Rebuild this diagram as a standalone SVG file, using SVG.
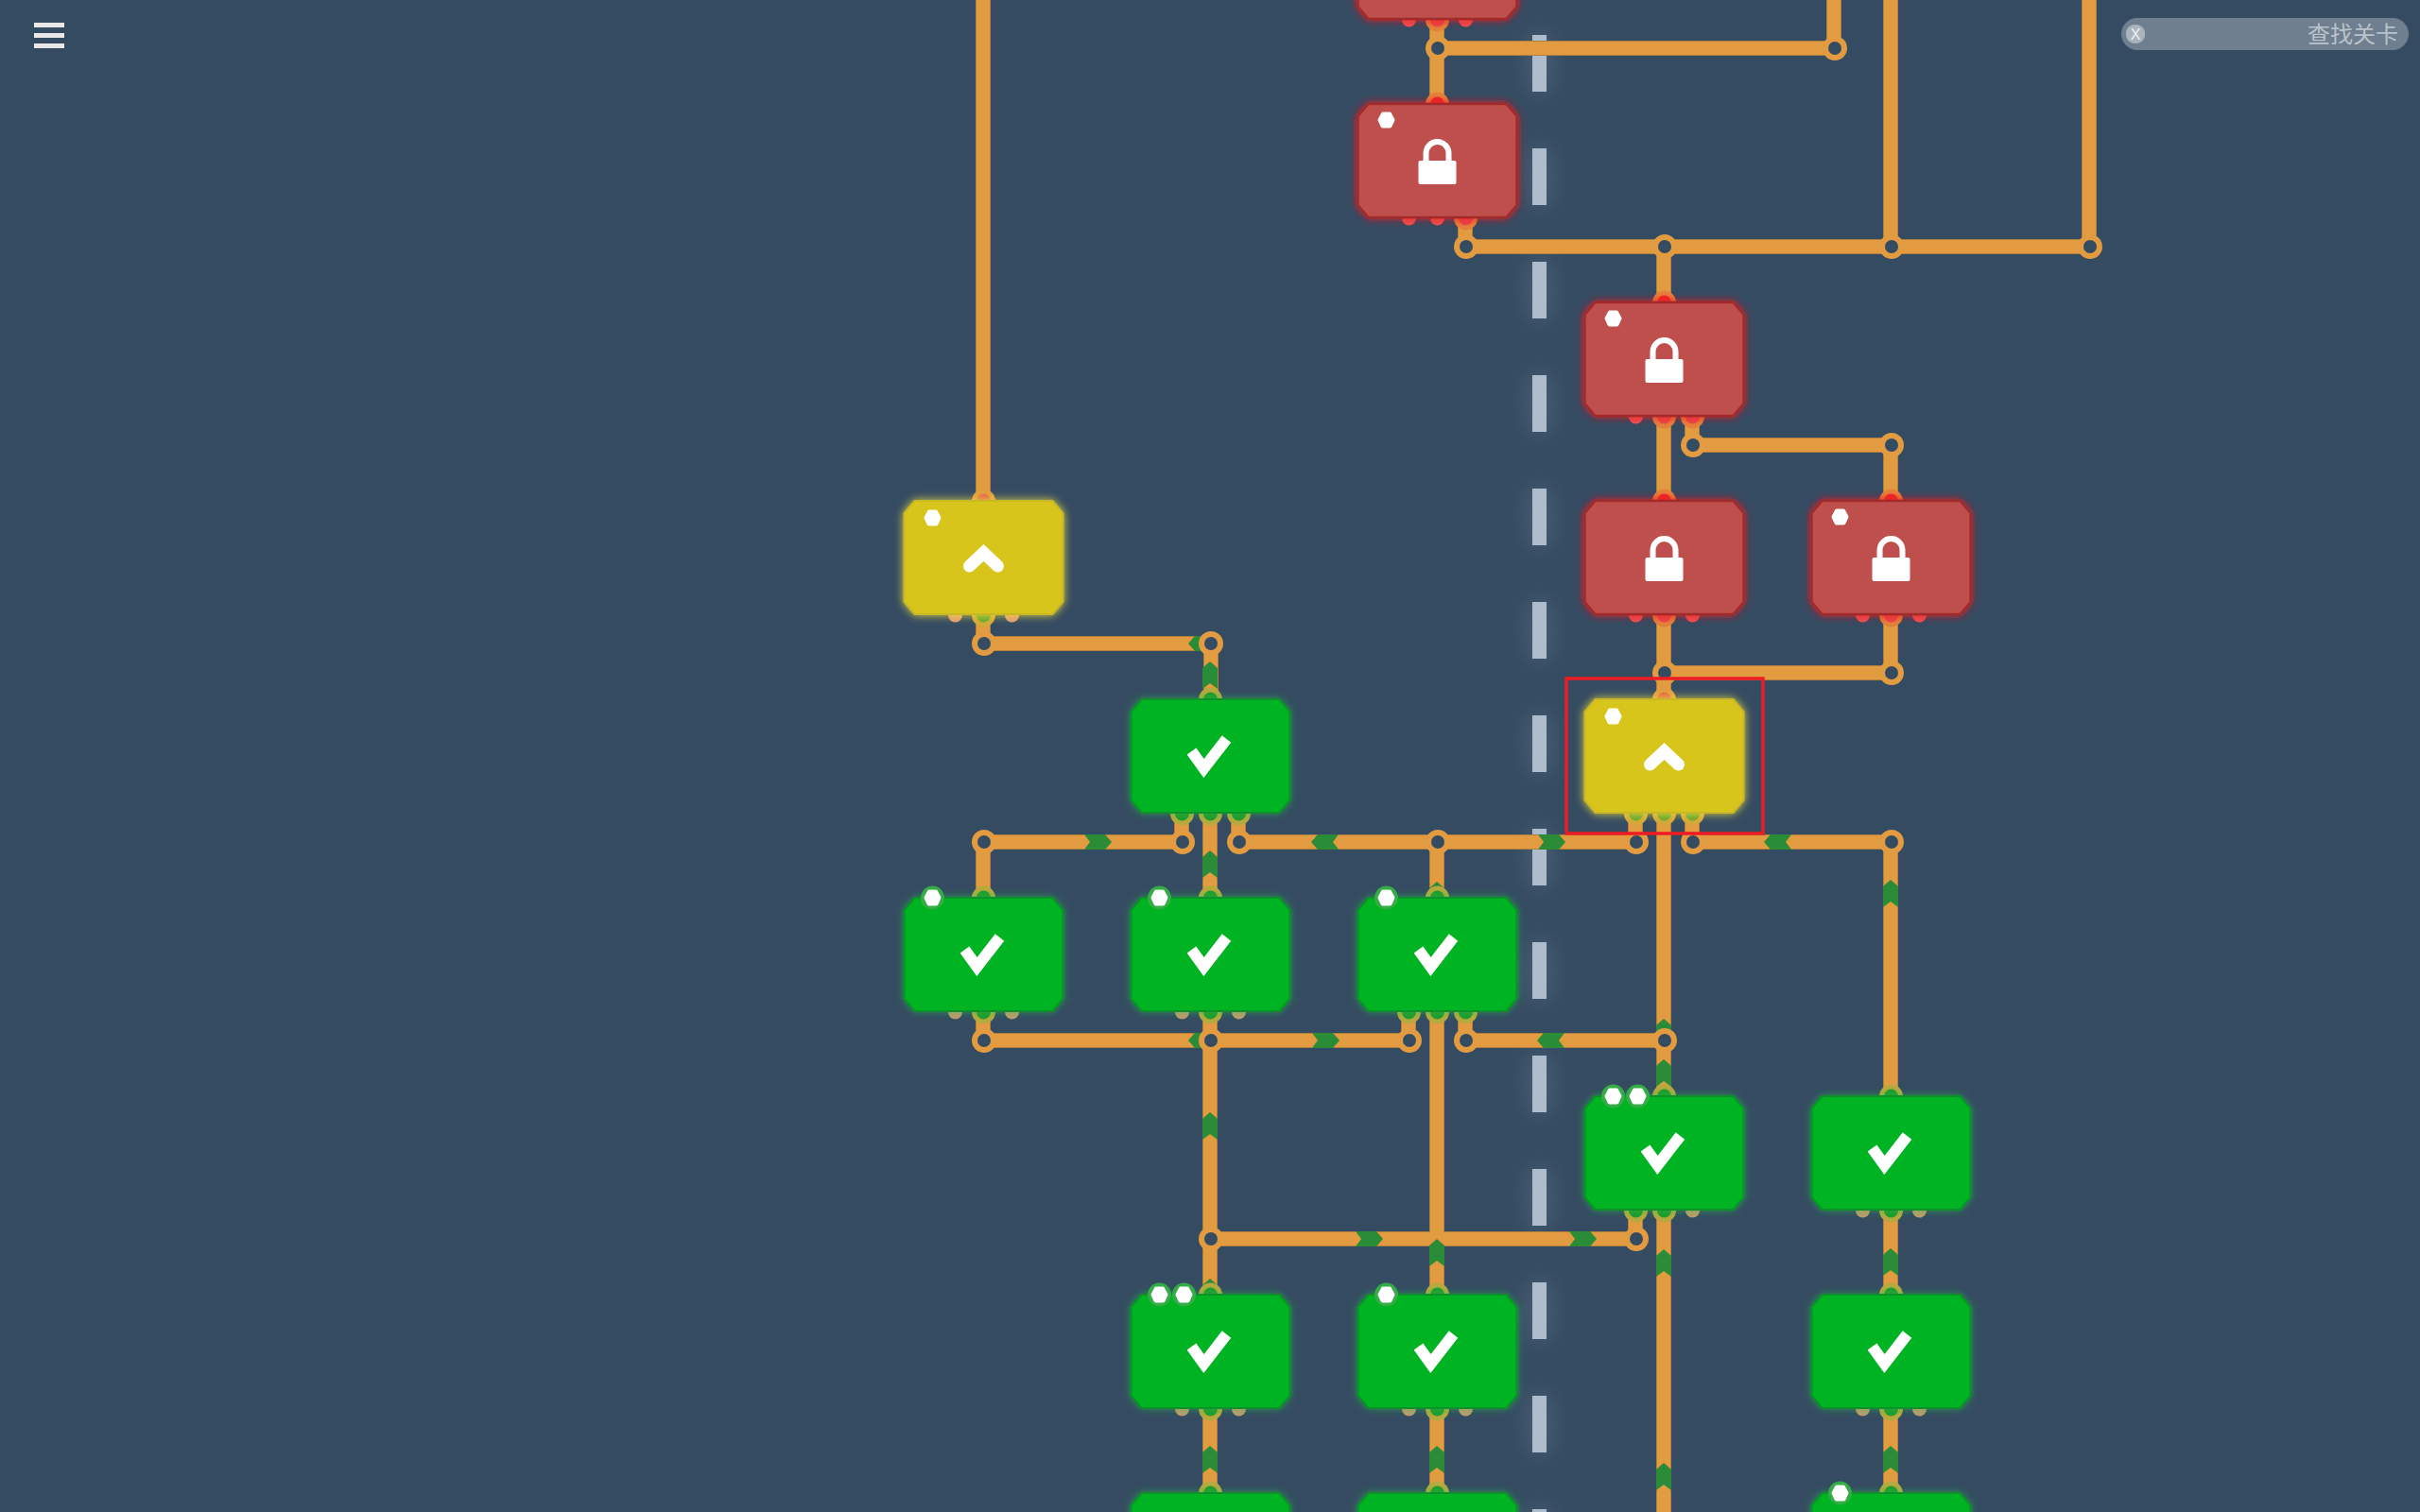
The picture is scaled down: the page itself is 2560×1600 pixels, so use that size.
<svg xmlns="http://www.w3.org/2000/svg" width="2560" height="1600" viewBox="0 0 2560 1600">
<defs>
<style>
.wc{fill:none;stroke:#e29b40;stroke-width:14}
.we{fill:none;stroke:#b0803c;stroke-width:16}
.ring{fill:#354b62;stroke:#e29b40;stroke-width:6}
.chev{fill:#2a8c36}
.dash{fill:#aebccb;filter:url(#dashglow)}
.g{fill:#00b321;stroke:#07912a;stroke-width:2;filter:url(#gg)}
.y{fill:#d7c51d;stroke:#c9b826;stroke-width:2;filter:url(#gy)}
.r{fill:#bf4f4d;stroke:#a32c2c;stroke-width:2.500;filter:url(#gr)}
.ck{fill:none;stroke:#fff;stroke-width:12;stroke-linejoin:miter}
.up{fill:none;stroke:#fff;stroke-width:13;stroke-linecap:round;stroke-linejoin:miter}
.sh{fill:none;stroke:#fff;stroke-width:6}
.hl{fill:none;stroke:#ed1c24;stroke-width:3.5}
.bar{fill:#e8e8e8}
</style>
<filter id="gg" x="-20%" y="-25%" width="140%" height="150%"><feDropShadow dx="0" dy="0" stdDeviation="4" flood-color="#1fc23f" flood-opacity=".6"/></filter>
<filter id="gy" x="-20%" y="-25%" width="140%" height="150%"><feDropShadow dx="0" dy="0" stdDeviation="5" flood-color="#f2e23a" flood-opacity=".9"/></filter>
<filter id="gr" x="-20%" y="-25%" width="140%" height="150%"><feDropShadow dx="0" dy="0" stdDeviation="4" flood-color="#e8181c" flood-opacity="1"/></filter>
<filter id="dashglow" x="-300%" y="-60%" width="700%" height="220%"><feDropShadow dx="0" dy="0" stdDeviation="12" flood-color="#8da2b8" flood-opacity=".4"/></filter>
<polygon id="okt" points="-73,-60 73,-60 84,-47 84,47 73,60 -73,60 -84,47 -84,-47"/>
<polygon id="chev" class="chev" points="0,-15 8,-8 8,14 0,8 -8,14 -8,-8"/>
<g id="check"><polyline class="ck" points="-20,-5 -7,13 17,-18"/></g>
<g id="chevup"><polyline class="up" points="-15,9 0,-5 15,9"/></g>
<g id="lock"><rect x="-20" y="0" width="40" height="25" rx="2" fill="#fff"/><path class="sh" d="M-12,1V-8a12,12 0 0 1 24,0V1"/></g>
<g id="gOn"><circle r="10" fill="#22992d" stroke="#b7a93f" stroke-width="5"/></g>
<circle id="gOff" r="7.5" fill="#c49a70"/>
<g id="yOn"><circle r="10" fill="#6aa52e" stroke="#d2a83a" stroke-width="5"/></g>
<g id="yTop"><circle r="10" fill="#e0674a" stroke="#e29b40" stroke-width="5"/></g>
<circle id="yOff" r="7.5" fill="#e59a72"/>
<g id="rOn"><circle r="10" fill="#ea4a4c" stroke="#e5803c" stroke-width="5"/></g>
<g id="rTop"><circle r="10" fill="#ee2a2a" stroke="#e5803c" stroke-width="5"/></g>
<circle id="rOff" r="7.5" fill="#ea5455"/>
<polygon id="badge" points="-3.500,-6.500 3.500,-6.500 7,0 4,6.500 -4,6.500 -7,0" fill="#fff" stroke="#fff" stroke-width="4" stroke-linejoin="round"/>
<g id="gbadge"><circle r="12.5" fill="#35ad46"/><use href="#badge"/></g>
<path id="wires" d="M1040-10V530M1040 652V681H1281M1281 681V742M1250 862V891H1040V950M1280 860V950M1310 862V891H1730V862M1520 891V950M1760 862V1160M1790 862V891H2000V1160M1040 1070V1101H1490V1070M1280 1070V1370M1520 1070V1370M1550 1070V1101H1760M1280 1311H1730V1280M1760 1280V1610M2000 1280V1370M1280 1490V1580M1520 1490V1580M2000 1490V1580M1940-10V51H1520M1520 20V110M1550 233V261H2210V-10M2000-10V261M1760 261V320M1760 440V530M1790 440V471H2000V530M2000 650V712H1760M1760 650V740"/>
</defs>
<rect width="2560" height="1600" fill="#354b62"/>
<g id="divider">
<rect class="dash" x="1621" y="37" width="15" height="60"/><rect class="dash" x="1621" y="157" width="15" height="60"/><rect class="dash" x="1621" y="277" width="15" height="60"/><rect class="dash" x="1621" y="397" width="15" height="60"/><rect class="dash" x="1621" y="517" width="15" height="60"/><rect class="dash" x="1621" y="637" width="15" height="60"/><rect class="dash" x="1621" y="757" width="15" height="60"/><rect class="dash" x="1621" y="877" width="15" height="60"/><rect class="dash" x="1621" y="997" width="15" height="60"/><rect class="dash" x="1621" y="1117" width="15" height="60"/><rect class="dash" x="1621" y="1237" width="15" height="60"/><rect class="dash" x="1621" y="1357" width="15" height="60"/><rect class="dash" x="1621" y="1477" width="15" height="60"/><rect class="dash" x="1621" y="1597" width="15" height="60"/>
</g>
<g id="connectors">
<use href="#wires" class="we"/><use href="#wires" class="wc"/>
<g id="flow">
<use href="#chev" transform="translate(1272 681) rotate(-90)"/>
<use href="#chev" transform="translate(1280 715)"/>
<use href="#chev" transform="translate(1161 891) rotate(90)"/>
<use href="#chev" transform="translate(1402 891) rotate(-90)"/>
<use href="#chev" transform="translate(1280 915)"/>
<use href="#chev" transform="translate(1520 948)"/>
<use href="#chev" transform="translate(1641 891) rotate(90)"/>
<use href="#chev" transform="translate(1881 891) rotate(-90)"/>
<use href="#chev" transform="translate(2000 946)"/>
<use href="#chev" transform="translate(1272 1101) rotate(-90)"/>
<use href="#chev" transform="translate(1402 1101) rotate(90)"/>
<use href="#chev" transform="translate(1641 1101) rotate(-90)"/>
<use href="#chev" transform="translate(1760 1093)"/>
<use href="#chev" transform="translate(1760 1136)"/>
<use href="#chev" transform="translate(1280 1192)"/>
<use href="#chev" transform="translate(1520 1326)"/>
<use href="#chev" transform="translate(1448 1311) rotate(90)"/>
<use href="#chev" transform="translate(1674 1311) rotate(90)"/>
<use href="#chev" transform="translate(1760 1337)"/>
<use href="#chev" transform="translate(1760 1563)"/>
<use href="#chev" transform="translate(2000 1336)"/>
<use href="#chev" transform="translate(2000 1545)"/>
<use href="#chev" transform="translate(1280 1368)"/>
<use href="#chev" transform="translate(1280 1545)"/>
<use href="#chev" transform="translate(1520 1545)"/>
</g>
<g id="junctions">
<circle class="ring" cx="1521" cy="51" r="10"/><circle class="ring" cx="1941" cy="51" r="10"/><circle class="ring" cx="1551" cy="261" r="10"/><circle class="ring" cx="1761" cy="261" r="10"/><circle class="ring" cx="2001" cy="261" r="10"/><circle class="ring" cx="2211" cy="261" r="10"/><circle class="ring" cx="1791" cy="471" r="10"/><circle class="ring" cx="2001" cy="471" r="10"/><circle class="ring" cx="1041" cy="681" r="10"/><circle class="ring" cx="1281" cy="681" r="10"/><circle class="ring" cx="1761" cy="712" r="10"/><circle class="ring" cx="2001" cy="712" r="10"/><circle class="ring" cx="1041" cy="891" r="10"/><circle class="ring" cx="1251" cy="891" r="10"/><circle class="ring" cx="1311" cy="891" r="10"/><circle class="ring" cx="1521" cy="891" r="10"/><circle class="ring" cx="1731" cy="891" r="10"/><circle class="ring" cx="1791" cy="891" r="10"/><circle class="ring" cx="2001" cy="891" r="10"/><circle class="ring" cx="1041" cy="1101" r="10"/><circle class="ring" cx="1281" cy="1101" r="10"/><circle class="ring" cx="1491" cy="1101" r="10"/><circle class="ring" cx="1551" cy="1101" r="10"/><circle class="ring" cx="1761" cy="1101" r="10"/><circle class="ring" cx="1281" cy="1311" r="10"/><circle class="ring" cx="1731" cy="1311" r="10"/>
</g>
</g>
<g id="n-red-top" transform="translate(1520.5 -40)"><use href="#rOff" x="-30" y="61"/><use href="#rOn" y="61"/><use href="#rOff" x="30" y="61"/><use href="#okt" class="r"/></g>
<g id="n-red-1520-170" transform="translate(1520.5 170)"><use href="#rTop" y="-60"/><use href="#rOff" x="-30" y="61"/><use href="#rOff" y="61"/><use href="#rOn" x="30" y="61"/><use href="#okt" class="r"/><use href="#badge" x="-54" y="-43"/><use href="#lock" y="0"/></g>
<g id="n-red-1760-380" transform="translate(1760.5 380)"><use href="#rTop" y="-60"/><use href="#rOff" x="-30" y="61"/><use href="#rOn" y="61"/><use href="#rOn" x="30" y="61"/><use href="#okt" class="r"/><use href="#badge" x="-54" y="-43"/><use href="#lock"/></g>
<g id="n-red-1760-590" transform="translate(1760.5 590)"><use href="#rTop" y="-60"/><use href="#rOff" x="-30" y="61"/><use href="#rOn" y="61"/><use href="#rOff" x="30" y="61"/><use href="#okt" class="r"/><use href="#lock"/></g>
<g id="n-red-2000-590" transform="translate(2000.5 590)"><use href="#rTop" y="-60"/><use href="#rOff" x="-30" y="61"/><use href="#rOn" y="61"/><use href="#rOff" x="30" y="61"/><use href="#okt" class="r"/><use href="#badge" x="-54" y="-43"/><use href="#lock"/></g>
<g id="n-yellow-1040-590" transform="translate(1040.5 590)"><use href="#yTop" y="-60"/><use href="#yOff" x="-30" y="61"/><use href="#yOn" y="61"/><use href="#yOff" x="30" y="61"/><use href="#okt" class="y"/><use href="#badge" x="-54" y="-42"/><use href="#chevup"/></g>
<g id="n-yellow-1760-800" transform="translate(1760.5 800)"><use href="#yTop" y="-60"/><use href="#yOn" x="-30" y="61"/><use href="#yOn" y="61"/><use href="#yOn" x="30" y="61"/><use href="#okt" class="y"/><use href="#badge" x="-54" y="-42"/><use href="#chevup"/></g>
<g id="n-green-1280-800" transform="translate(1280.5 800)"><use href="#gOn" y="-60"/><use href="#gOn" x="-30" y="61"/><use href="#gOn" y="61"/><use href="#gOn" x="30" y="61"/><use href="#okt" class="g"/><use href="#check"/></g>
<g id="n-green-1040-1010" transform="translate(1040.5 1010)"><use href="#gOn" y="-60"/><use href="#gOff" x="-30" y="61"/><use href="#gOn" y="61"/><use href="#gOff" x="30" y="61"/><use href="#okt" class="g"/><use href="#gbadge" x="-54" y="-60"/><use href="#check"/></g>
<g id="n-green-1280-1010" transform="translate(1280.5 1010)"><use href="#gOn" y="-60"/><use href="#gOff" x="-30" y="61"/><use href="#gOn" y="61"/><use href="#gOff" x="30" y="61"/><use href="#okt" class="g"/><use href="#gbadge" x="-54" y="-60"/><use href="#check"/></g>
<g id="n-green-1520-1010" transform="translate(1520.5 1010)"><use href="#gOn" y="-60"/><use href="#gOn" x="-30" y="61"/><use href="#gOn" y="61"/><use href="#gOn" x="30" y="61"/><use href="#okt" class="g"/><use href="#gbadge" x="-54" y="-60"/><use href="#check"/></g>
<g id="n-green-1760-1220" transform="translate(1760.5 1220)"><use href="#gOn" y="-60"/><use href="#gOn" x="-30" y="61"/><use href="#gOn" y="61"/><use href="#gOff" x="30" y="61"/><use href="#okt" class="g"/><use href="#gbadge" x="-54" y="-60"/><use href="#gbadge" x="-28" y="-60"/><use href="#check"/></g>
<g id="n-green-2000-1220" transform="translate(2000.5 1220)"><use href="#gOn" y="-60"/><use href="#gOff" x="-30" y="61"/><use href="#gOn" y="61"/><use href="#gOff" x="30" y="61"/><use href="#okt" class="g"/><use href="#check"/></g>
<g id="n-green-1280-1430" transform="translate(1280.5 1430)"><use href="#gOn" y="-60"/><use href="#gOff" x="-30" y="61"/><use href="#gOn" y="61"/><use href="#gOff" x="30" y="61"/><use href="#okt" class="g"/><use href="#gbadge" x="-54" y="-60"/><use href="#gbadge" x="-28" y="-60"/><use href="#check"/></g>
<g id="n-green-1520-1430" transform="translate(1520.5 1430)"><use href="#gOn" y="-60"/><use href="#gOff" x="-30" y="61"/><use href="#gOn" y="61"/><use href="#gOff" x="30" y="61"/><use href="#okt" class="g"/><use href="#gbadge" x="-54" y="-60"/><use href="#check"/></g>
<g id="n-green-2000-1430" transform="translate(2000.5 1430)"><use href="#gOn" y="-60"/><use href="#gOff" x="-30" y="61"/><use href="#gOn" y="61"/><use href="#gOff" x="30" y="61"/><use href="#okt" class="g"/><use href="#check"/></g>
<g id="n-green-1280-1640" transform="translate(1280.5 1640)"><use href="#gOn" y="-60"/><use href="#okt" class="g"/></g>
<g id="n-green-1520-1640" transform="translate(1520.5 1640)"><use href="#gOn" y="-60"/><use href="#okt" class="g"/></g>
<g id="n-green-2000-1640" transform="translate(2000.5 1640)"><use href="#gOn" y="-60"/><use href="#okt" class="g"/><use href="#gbadge" x="-54" y="-60"/></g>
<rect id="selection" class="hl" x="1657" y="718" width="208" height="164"/>
<g id="menu"><rect class="bar" x="36" y="24" width="32" height="5"/><rect class="bar" x="36" y="35" width="32" height="5"/><rect class="bar" x="36" y="46" width="32" height="5"/></g>
<g id="search">
<rect x="2244" y="19" width="304" height="34" rx="17" fill="#6f7f8f"/>
<rect x="2249" y="26" width="20" height="20" rx="9" fill="#aab4bd"/>
<text x="2259" y="42" text-anchor="middle" font-family="'Liberation Sans',sans-serif" font-size="16" fill="#eef1f3">X</text>
<text x="2537" y="45" text-anchor="end" font-family="'Liberation Sans','Noto Sans CJK SC',sans-serif" font-size="24" fill="#b9c3cc">查找关卡</text>
</g>
</svg>
